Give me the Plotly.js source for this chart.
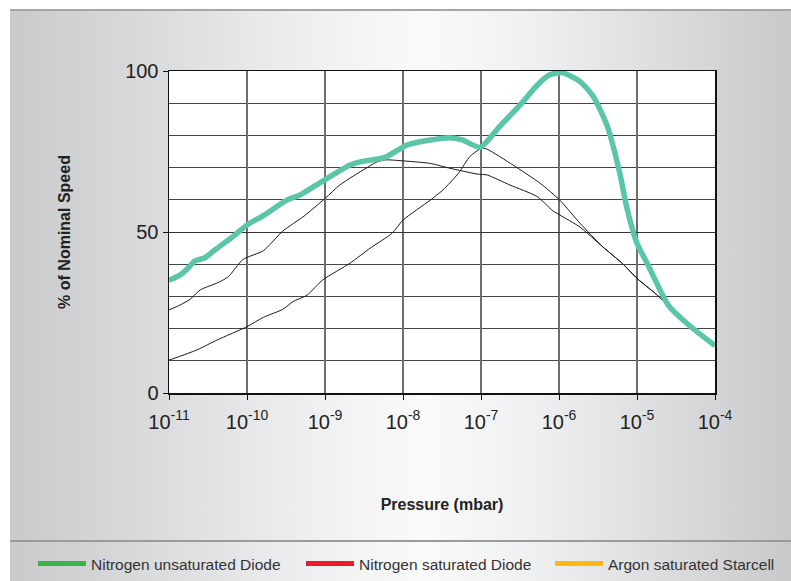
<!DOCTYPE html>
<html>
<head>
<meta charset="utf-8">
<script src="https://cdn.plot.ly/plotly-3.0.1.min.js"></script>
<style>
  html, body { margin:0; padding:0; background:#ffffff; width:791px; height:581px; overflow:hidden; }
  #panel { position:absolute; left:10px; top:9px; width:781px; height:572px;
    background: linear-gradient(to right, #c9cacc 0%, #dcdddf 20%, #eeeff0 38%, #fafafa 53%, #eeeff0 68%, #dadbdd 85%, #c8c9cb 100%);
    border-top:2px solid #a6a6a6; box-sizing:border-box; }
  #sep { position:absolute; left:10px; top:540px; width:781px; height:2px; background:#9b9b9b; }
  #chart { position:absolute; left:0; top:0; width:791px; height:581px; }
</style>
</head>
<body>
<div id="panel"></div>
<div id="sep"></div>
<div id="chart"></div>
<script>
// Pressure exponents (log10 of mbar) and % of nominal speed
const tealLogP = [-11.0,-10.86,-10.77,-10.67,-10.54,-10.38,-10.19,-10.0,-9.79,-9.49,-9.32,-9.03,-8.68,-8.55,-8.23,-7.95,-7.69,-7.40,-7.24,-7.01,-6.76,-6.50,-6.28,-6.12,-5.96,-5.73,-5.56,-5.38,-5.22,-5.13,-5.0,-4.87,-4.60,-4.36,-4.0];
const tealSpeed = [35,36.6,38.4,41,42,45,48.4,52.2,55.1,59.9,61.5,65.8,70.8,71.8,73.2,77,78.4,79.3,78.6,76.3,82.8,89.4,95.6,98.8,99.5,96.7,92.1,82.8,68.2,57.5,46.5,40.3,27.3,21.6,14.7];

const upperLogP = [-11.0,-10.86,-10.73,-10.60,-10.37,-10.24,-10.05,-9.79,-9.54,-9.26,-9.0,-8.81,-8.55,-8.33,-8.23,-7.95,-7.65,-7.40,-7.05,-6.92,-6.63,-6.28,-6.08,-5.99,-5.73,-5.44,-5.19,-5.0,-4.77,-4.60];
const upperSpeed = [25.8,27.3,29.1,32,34.3,36.1,41.5,44.2,50.3,55.1,60.4,64.6,68.7,71.8,72.4,72,71.3,69.8,68,67.7,64.6,61,56.6,55.3,51.5,45.4,40.3,35.6,31,27.3];

const lowerLogP = [-11.0,-10.64,-10.38,-10.0,-9.79,-9.54,-9.41,-9.23,-9.03,-8.68,-8.42,-8.14,-8.0,-7.65,-7.49,-7.29,-7.14,-6.99,-6.92,-6.59,-6.24,-5.99,-5.73,-5.44,-5.19,-5.0,-4.77,-4.60];
const lowerSpeed = [10.2,13.4,16.5,20.6,23.5,26,28.4,30.4,35.1,40.3,45,49.6,53.7,59.9,63,68.2,73.5,76,75.7,70.8,65.1,59.9,52.7,45.4,40.3,35.6,31,27.3];

const xTickVals = [1e-11,1e-10,1e-9,1e-8,1e-7,1e-6,1e-5,1e-4];
const xTickText = ['10<sup>-11</sup>','10<sup>-10</sup>','10<sup>-9</sup>','10<sup>-8</sup>','10<sup>-7</sup>','10<sup>-6</sup>','10<sup>-5</sup>','10<sup>-4</sup>'];
const yTickVals = [0,50,100];
const yTickText = ['0','50','100'];

const legendNames = ['Nitrogen unsaturated Diode','Nitrogen saturated Diode','Argon saturated Starcell'];
const legendColors = ['#3cb44b','#ed1c24','#fdb913'];

const toP = a => a.map(e => Math.pow(10, e));

const sans = 'Liberation Sans, Arial, sans-serif';

const traces = [
  {x: toP(upperLogP), y: upperSpeed, mode:'lines', line:{color:'#1a1a1a', width:1, shape:'spline', smoothing:0.6}, showlegend:false, hoverinfo:'skip'},
  {x: toP(lowerLogP), y: lowerSpeed, mode:'lines', line:{color:'#1a1a1a', width:1, shape:'spline', smoothing:0.6}, showlegend:false, hoverinfo:'skip'},
  {x: toP(tealLogP), y: tealSpeed, mode:'lines', line:{color:'#5bc5aa', width:5.5, shape:'spline', smoothing:0.6}, showlegend:false, hoverinfo:'skip'}
];
const legendIds = ['legend','legend2','legend3'];
legendNames.forEach((n,i) => {
  traces.push({x:[null], y:[null], mode:'lines', name:n, line:{color:legendColors[i], width:5}, legend:legendIds[i], showlegend:true});
});

const legBase = {orientation:'h', xref:'container', yref:'container', yanchor:'middle', xanchor:'left',
  y:(581-564)/581, bgcolor:'rgba(0,0,0,0)', borderwidth:0, itemwidth:48,
  font:{family:sans, size:15.5, color:'#333333'}};

const layout = {
  width:791, height:581,
  margin:{l:169, r:76, t:71, b:188},
  paper_bgcolor:'rgba(0,0,0,0)',
  plot_bgcolor:'#ffffff',
  showlegend:true,
  xaxis:{type:'log', range:[-11,-4], tickvals:xTickVals, ticktext:xTickText,
    tickfont:{family:sans, size:20, color:'#222222'}, ticklabelstandoff:5,
    showgrid:true, gridcolor:'#6e6e6e', gridwidth:1.5,
    showline:true, linecolor:'#111111', linewidth:1.5, mirror:true,
    ticks:'outside', ticklen:5, tickcolor:'#111111', tickwidth:1,
    zeroline:false, fixedrange:true, automargin:false,
    title:{text:'Pressure (mbar)', font:{family:sans, size:16, color:'#222222', weight:'bold'}, standoff:67}},
  yaxis:{range:[0,100], tickvals:yTickVals, ticktext:yTickText,
    tickfont:{family:sans, size:20, color:'#222222'},
    showgrid:true, gridcolor:'#333333', gridwidth:1,
    minor:{dtick:10, tick0:0, showgrid:true, gridcolor:'#444444', gridwidth:1, ticks:''},
    showline:true, linecolor:'#111111', linewidth:1.5, mirror:true,
    ticks:'outside', ticklen:5, tickcolor:'#111111', tickwidth:1,
    zeroline:false, fixedrange:true, automargin:false,
    title:{text:'% of Nominal Speed', font:{family:sans, size:16, color:'#222222', weight:'bold'}, standoff:50}},
  legend: Object.assign({}, legBase, {x:33/791}),
  legend2: Object.assign({}, legBase, {x:301/791}),
  legend3: Object.assign({}, legBase, {x:550/791})
};

Plotly.newPlot('chart', traces, layout, {displayModeBar:false, staticPlot:true});
</script>
</body>
</html>
